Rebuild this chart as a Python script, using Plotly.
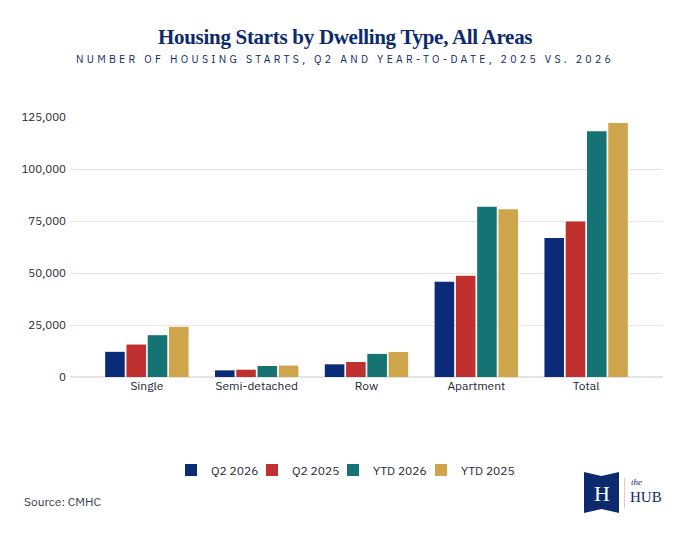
import plotly.graph_objects as go

categories = ["Single", "Semi-detached", "Row", "Apartment", "Total"]
series_names = ["Q2 2026", "Q2 2025", "YTD 2026", "YTD 2025"]
q2_2026 = [12100, 3200, 6100, 45800, 66800]
q2_2025 = [15600, 3500, 7200, 48700, 74700]
ytd_2026 = [20100, 5300, 11100, 81900, 118100]
ytd_2025 = [24100, 5500, 12000, 80700, 122100]
y_ticks = [0, 25000, 50000, 75000, 100000, 125000]
y_tick_labels = ["0", "25,000", "50,000", "75,000", "100,000", "125,000"]

colors = ["#0b2a78", "#c0302f", "#157473", "#cfa54b"]
NAVY = "#0d2a6e"

OFF = 8  # page body margin
W, H = 689 - OFF, 537 - OFF
# plot area in reference pixel coords: x 70..663, y 117..377
PL, PR, PT, PB = 70, 663, 117, 377
L, R, T, B = PL - OFF, W - (PR - OFF), PT - OFF, H - (PB - OFF)
PW, PH = PR - PL, PB - PT

def px(x):
    return (x - PL) / PW

def py(y):
    return (PB - y) / PH

font_sans = "IBM Plex Sans, Noto Sans, Roboto, sans-serif"

legend_left_x = [171, 252, 333, 421]
legend_keys = ["legend", "legend2", "legend3", "legend4"]

fig = go.Figure()
for name, vals, c, lk in zip(series_names, [q2_2026, q2_2025, ytd_2026, ytd_2025], colors, legend_keys):
    fig.add_trace(go.Bar(x=categories, y=vals, name=name, legend=lk,
                         marker=dict(color=c, line=dict(width=0))))

layout_legends = {}
for lk, lx in zip(legend_keys, legend_left_x):
    layout_legends[lk] = dict(orientation="h", x=px(lx), xanchor="left", y=py(470), yanchor="middle",
                              font=dict(family=font_sans, size=12, color="#222a3a"),
                              itemwidth=30, bgcolor="rgba(0,0,0,0)", borderwidth=0)

fig.update_layout(
    width=W, height=H,
    margin=dict(l=L, r=R, t=T, b=B, autoexpand=False),
    plot_bgcolor="white", paper_bgcolor="white",
    barmode="group", bargap=0.225, bargroupgap=0.08,
    showlegend=True,
    font=dict(family=font_sans, color="#222a3a"),
    **layout_legends,
)
fig.update_xaxes(range=[-0.7, 4.7], showgrid=False, showline=False, ticks="",
                 tickfont=dict(size=12, color="#1f2433"), automargin=False)
fig.update_yaxes(range=[0, 125000], tickvals=y_ticks, ticktext=y_tick_labels,
                 showgrid=True, gridcolor="#e5e5e5", gridwidth=1, zeroline=True, zerolinecolor="#e5e5e5",
                 showline=False, ticks="", tickfont=dict(size=11.5, color="#1f2433"), automargin=False,
                 ticklabelstandoff=3)

# Titles
fig.add_annotation(text="<b><span style='letter-spacing:-0.3px'>Housing Starts by Dwelling Type, All Areas</span></b>",
                   xref="paper", yref="paper",
                   x=px(344.5), y=py(37), xanchor="center", yanchor="middle", showarrow=False,
                   font=dict(family="Liberation Serif, serif", size=21, color=NAVY))
fig.add_annotation(text="<span style='letter-spacing:3.3px'>NUMBER OF HOUSING STARTS, Q2 AND YEAR-TO-DATE, 2025 VS. 2026</span>",
                   xref="paper", yref="paper",
                   x=px(345), y=py(59), xanchor="center", yanchor="middle", showarrow=False,
                   font=dict(family=font_sans, size=10.5, color=NAVY))
fig.add_annotation(text="Source: CMHC", xref="paper", yref="paper",
                   x=px(22), y=py(501), xanchor="left", yanchor="middle", showarrow=False,
                   font=dict(family=font_sans, size=12, color="#333a48"))

# Logo
bx0, bx1, by0, by1 = 584, 619, 472, 513
mid = (bx0 + bx1) / 2
path = (f"M {px(bx0)} {py(by0)} L {px(mid)} {py(by0+4)} L {px(bx1)} {py(by0)} "
        f"L {px(bx1)} {py(by1)} L {px(mid)} {py(by1-4)} L {px(bx0)} {py(by1)} Z")
fig.add_shape(type="path", path=path, xref="paper", yref="paper", fillcolor="#0d2a6e", line=dict(width=0))
fig.add_annotation(text="H", xref="paper", yref="paper", x=px(mid), y=py(493), showarrow=False,
                   xanchor="center", yanchor="middle",
                   font=dict(family="Liberation Serif, serif", size=22, color="white"))
fig.add_shape(type="line", xref="paper", yref="paper", x0=px(624.5), x1=px(624.5), y0=py(478), y1=py(508),
              line=dict(color="#f0c8c0", width=1))
fig.add_annotation(text="<i>the</i>", xref="paper", yref="paper", x=px(629), y=py(482), showarrow=False,
                   xanchor="left", yanchor="middle",
                   font=dict(family="Liberation Serif, serif", size=9, color=NAVY))
fig.add_annotation(text="HUB", xref="paper", yref="paper", x=px(628), y=py(497), showarrow=False,
                   xanchor="left", yanchor="middle",
                   font=dict(family="Liberation Serif, serif", size=15, color=NAVY))

fig.write_html("out.html")
